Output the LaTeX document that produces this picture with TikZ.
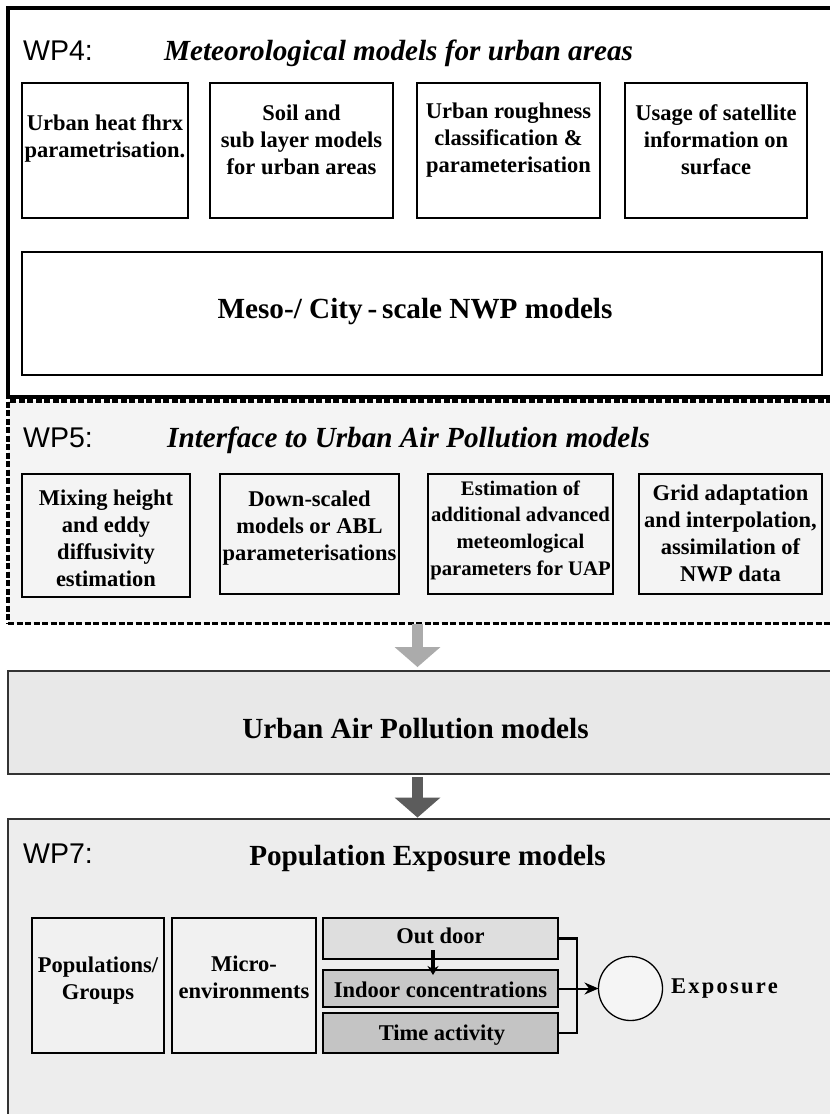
\documentclass[tikz,border=0pt]{standalone}
\usepackage{fontspec}
\setmainfont{Liberation Serif}
\newfontfamily\wpsans{Liberation Sans}
\usetikzlibrary{arrows.meta}

\definecolor{wpfivefill}{HTML}{F4F4F4}
\definecolor{uapfill}{HTML}{E8E8E8}
\definecolor{wpsevenfill}{HTML}{EDEDED}
\definecolor{framegray}{HTML}{333333}
\definecolor{arrowlight}{HTML}{ABABAB}
\definecolor{arrowdark}{HTML}{5C5C5C}
\definecolor{groupfill}{HTML}{F1F1F1}
\definecolor{outfill}{HTML}{DEDEDE}
\definecolor{infill}{HTML}{C8C8C8}
\definecolor{timefill}{HTML}{C4C4C4}
\definecolor{circfill}{HTML}{F5F5F5}

\begin{document}
\begin{tikzpicture}[x=1pt,y=-1pt,
  frame/.style={rectangle, inner sep=0pt, outer sep=0pt, anchor=north west},
  box/.style={draw=black, line width=1.6pt, rectangle, inner sep=0pt, outer sep=0pt},
  gbox/.style={box, line width=2.2pt},
  boxtext/.style={font=\fontsize{22.5}{27}\selectfont\bfseries, align=center, inner sep=0pt},
  smalltext/.style={font=\fontsize{20.7}{26.7}\selectfont\bfseries, align=center, inner sep=0pt},
  wplabel/.style={font=\wpsans\fontsize{28.5}{30}\selectfont, anchor=base west, inner sep=0pt},
  wptitle/.style={font=\fontsize{29.2}{32}\selectfont\bfseries\itshape, anchor=base west, inner sep=0pt},
  headline/.style={font=\fontsize{29.2}{32}\selectfont\bfseries, anchor=base, inner sep=0pt},
  fatarrow/.style={line width=11pt, -{Triangle[length=20pt,width=46pt,line width=0pt]}}
]
\clip (0,0) rectangle (830,1114);
\fill[white] (0,0) rectangle (830,1114);

% ---- WP4: meteorological models ----
\node[frame, draw=black, line width=4pt, minimum width=832.5pt, minimum height=389pt] (wp4) at (7.5,7.5) {};
\node[wplabel] (wp4lab) at (23,60) {WP4:};
\node[wptitle] (wp4title) at (164,60) {Meteorological models for urban areas};

\node[box, fill=white, minimum width=166pt, minimum height=135pt] (t1) at (105,150.5) {};
\node[box, fill=white, minimum width=183pt, minimum height=135pt] (t2) at (301.5,150.5) {};
\node[box, fill=white, minimum width=183pt, minimum height=135pt] (t3) at (508.5,150.5) {};
\node[box, fill=white, minimum width=182pt, minimum height=135pt] (t4) at (716,150.5) {};
\node[boxtext] (t1txt) at (105,138.5) {Urban heat fhrx\\parametrisation.};
\node[boxtext] (t2txt) at (301.5,140) {Soil and\\sub layer models\\for urban areas};
\node[boxtext] (t3txt) at (508.5,140) {Urban roughness\\classification \&\\parameterisation};
\node[boxtext] (t4txt) at (716,140) {Usage of satellite\\information on\\surface};

\node[box, fill=white, minimum width=800pt, minimum height=123pt] (meso) at (422,313.5) {};
\node[headline] (mesotxt) at (415,318) {Meso-/ City\,-\,scale NWP models};

% ---- WP5: interface to urban air pollution models ----
\node[frame, draw=black, fill=wpfivefill, line width=3.5pt, dash pattern=on 6pt off 2.5pt,
      minimum width=832pt, minimum height=222.5pt] (wp5) at (8,401) {};
\node[wplabel] (wp5lab) at (23,447) {WP5:};
\node[wptitle] (wp5title) at (167,447) {Interface to Urban Air Pollution models};

\node[box, minimum width=168pt, minimum height=123pt] (f1) at (106,535.5) {};
\node[box, minimum width=179pt, minimum height=120pt] (f2) at (309.5,534) {};
\node[box, minimum width=185pt, minimum height=120pt] (f3) at (520.5,534) {};
\node[box, minimum width=183pt, minimum height=120pt] (f4) at (730.5,534) {};
\node[boxtext] (f1txt) at (106,538) {Mixing height\\and eddy\\diffusivity\\estimation};
\node[boxtext] (f2txt) at (309.5,528) {Down-scaled\\models or ABL\\parameterisations};
\node[smalltext] (f3txt) at (520.5,530) {Estimation of\\additional advanced\\meteomlogical\\parameters for UAP};
\node[boxtext] (f4txt) at (730.5,533) {Grid adaptation\\and interpolation,\\assimilation of\\NWP data};

% ---- Urban air pollution models ----
\node[frame, draw=framegray, fill=uapfill, line width=2pt, minimum width=832pt, minimum height=103pt] (uap) at (8,671) {};
\node[headline] (uaptxt) at (415.5,738) {Urban Air Pollution models};

% ---- WP7: population exposure models ----
\node[frame, draw=framegray, fill=wpsevenfill, line width=2pt, minimum width=832pt, minimum height=320pt] (wp7) at (8,819) {};
\node[wplabel] (wp7lab) at (23,863) {WP7:};
\node[headline] (wp7title) at (427.5,865) {Population Exposure models};

% flow arrows between the work packages
\coordinate (ax) at (417.5,0);
\draw[fatarrow, arrowlight, shorten >=4pt] (wp5.south -| ax) -- (uap.north -| ax);
\draw[fatarrow, arrowdark, shorten >=1.5pt, shorten <=3pt] (uap.south -| ax) -- (wp7.north -| ax);

% exposure model components
\node[gbox, fill=groupfill, minimum width=132pt, minimum height=135pt] (pop) at (98,985.5) {};
\node[gbox, fill=groupfill, minimum width=144pt, minimum height=135pt] (micro) at (244,985.5) {};
\node[gbox, fill=outfill, minimum width=235pt, minimum height=41pt] (outdoor) at (440.5,938.5) {};
\node[gbox, fill=infill, minimum width=235pt, minimum height=37pt] (indoor) at (440.5,988.5) {};
\node[gbox, fill=timefill, minimum width=235pt, minimum height=40pt] (time) at (440.5,1033) {};
\node[circle, draw=black, line width=1.3pt, fill=circfill, minimum size=64pt, inner sep=0pt, outer sep=0pt] (expo) at (630.5,988.5) {};

\node[boxtext] (poptxt) at (98,981) {Populations/\\Groups};
\node[boxtext] (microtxt) at (244,977) {Micro-\\environments};
\node[boxtext, anchor=base] (outtxt) at (440.5,943) {Out door};
\node[boxtext, anchor=base] (intxt) at (440.5,997) {Indoor concentrations};
\node[boxtext, anchor=base] (timetxt) at (442,1040) {Time activity};
\node[boxtext, anchor=base west] (expotxt) at (671,993) {\addfontfeature{LetterSpace=10}Exposure};

% connectors of the exposure chain
\coordinate (bx) at (577,0);
\draw[line width=2.8pt] (outdoor.east) -| (bx |- time.east) -- (time.east);
\draw[line width=2pt, -{Stealth[length=14pt,width=12pt]}] (indoor.east) -- (expo.west);
\draw[line width=4pt, -{Stealth[length=9pt,width=11pt]}]
  ([xshift=-7.5pt,yshift=9pt]outdoor.south) -- ([xshift=-7.5pt,yshift=-5pt]indoor.north);
\end{tikzpicture}
\end{document}
